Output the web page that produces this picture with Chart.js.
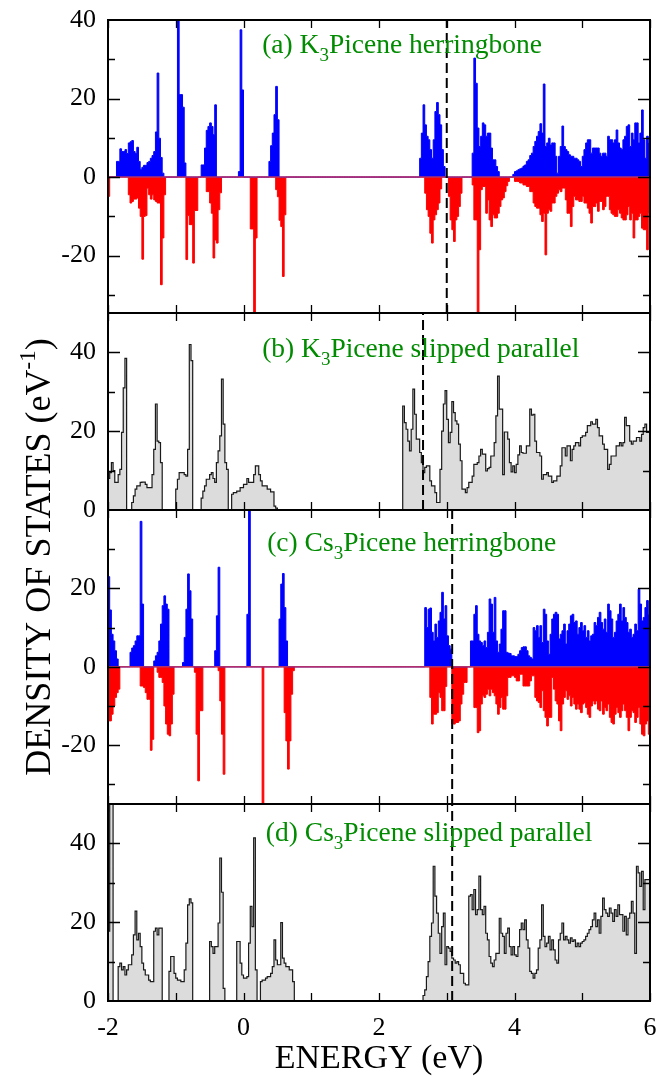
<!DOCTYPE html>
<html>
<head>
<meta charset="utf-8">
<script src="https://cdn.jsdelivr.net/npm/chart.js@4.4.0/dist/chart.umd.min.js"></script>
<style>
  html, body { margin: 0; padding: 0; background: #fff; }
  #wrap { width: 659px; height: 1076px; }
</style>
</head>
<body>
<div id="wrap"><canvas id="dos" width="659" height="1076"></canvas></div>
<script>
// energy bins, 0.025 eV wide, from -2 eV to 6 eV
const energy = Array.from({ length: 321 }, (_, i) => -2 + i * 0.025);

// (a) K3Picene herringbone, spin up / spin down
const aUp = [
  0,0,0,0,0,4,4,7.2,6.5,6.5, 7,6,8.7,9,9.3,6.5,6,7.6,4,2,
  2.5,3,3,3.7,4,4.8,5.5,6.5,11.5,26.5, 9.9,5,1,0,0,0,0,0,0,0,
  0,40,21,21,17.8,3.6,0,0,0,0, 0,0,0,0,0,3.1,3.1,7.4,11.9,12.9,
  13.8,12.9,10.8,18.4,0,0,0,0,0,0, 0,0,0,0,0,0,0,1.4,37.5,22.2,
  0,0,0,0,0,0,0,0,0,0, 0,0,0,0,0,4,8,11.2,15.9,23.1,
  14.6,0,0,0,0,0,0,0,0,0, 0,0,0,0,0,0,0,0,0,0,
  0,0,0,0,0,0,0,0,0,0, 0,0,0,0,0,0,0,0,0,0,
  0,0,0,0,0,0,0,0,0,0, 0,0,0,0,0,0,0,0,0,0,
  0,0,0,0,0,0,0,0,0,0, 0,0,0,0,0,0,0,0,0,0,
  0,0,0,0,4.8,11.2,18.4,13.3,10.4,9.5, 7,4.8,9.5,16.7,19,15.9,13.3,7,2.7,0,
  0,0,0,0,0,0,0,0,0,0, 0,0,0,0,0,6.1,30.3,23.9,12.5,7.8,
  10.4,13.8,13.3,10.4,11.2,11.2,7.4,4.4,4.4,2.7, 1.4,0,0,0,0,0,0,0,0,0.7,
  1.4,1.6,1.9,2.1,2.3,2.8,3.1,4,4.4,5.5, 6.1,7.8,9.1,10.4,11.6,13.6,11.2,23.7,7.8,8.7,
  9.9,8.2,8.7,8.7,5.3,1,5.3,7.8,13,7.8, 7,6.5,5.7,5.3,5.3,4.8,4.8,4.4,4,2.7,
  5.3,7,8.7,9.5,9.5,6.1,7.4,7.4,7.4,7.4, 6.1,5.3,6.1,6.1,5.3,10.4,9.5,9.5,8.7,9.5,
  12,8.7,7.4,7,9.5,10.4,12.9,13.3,7.8,11.2, 9.5,13.8,13.8,8.7,11.2,17.1,9.5,4.8,10.4,8.7,
  8.7
];
const aDown = [
  -4.9,0,0,0,0,0,0,0,0,0, 0,0,-4.5,-6.6,-6.2,-5.6,-5.6,-5.3,-7.9,-10,
  -20.9,-10,-9.8,-2.8,-4.5,-5.6,-4.5,-5.8,-6.2,-6.6, -6.6,-27.4,-15.5,-4.5,0,0,0,0,0,0,
  0,0,0,0,0,0,-21,-9.8,-12.1,-12.1, -21.9,-8.5,-8.5,0,0,0,0,0,-3.7,-3.7,
  -6.6,-9.2,-20.6,-16,-16.8,-8.3,-4,0,0,0, 0,0,0,0,0,0,0,0,0,0,
  0,0,0,0,-13.2,-13.2,-34.6,-15.5,0,0, 0,0,0,0,0,0,0,0,0,-3.2,
  -5,-11,-12.6,-25.3,-9.6,0,0,0,0,0, 0,0,0,0,0,0,0,0,0,0,
  0,0,0,0,0,0,0,0,0,0, 0,0,0,0,0,0,0,0,0,0,
  0,0,0,0,0,0,0,0,0,0, 0,0,0,0,0,0,0,0,0,0,
  0,0,0,0,0,0,0,0,0,0, 0,0,0,0,0,0,0,0,0,0,
  0,0,0,0,0,0,0,-4.1,-8.3,-10, -14.3,-16.8,-10.9,-9.6,-8.3,-6.6,-3,0,0,0,
  0,-4.9,-10.9,-13.4,-16.4,-10.9,-10,-7.5,-4.1,0, 0,0,0,0,0,-2,-10.9,-10.9,-34.6,-18.5,
  -3.2,-2.4,-2.4,-9.2,-5.8,-10.9,-12.6,-9.6,-10.4,-10.4, -9.2,-7.5,-5.8,-5.3,-3.7,-2.2,-1.1,0,0,0,
  -1.1,-1.1,-1.1,-1.5,-1.5,-2,-2,-2.4,-2.4,-3.7, -3.7,-6.6,-7.5,-7.9,-7.9,-9.6,-11.3,-9.2,-19.8,-9.2,
  -8.3,-8.7,-6.6,-6.6,-4.9,-4.1,-3.2,-3.7,-2.8,-2.8, -5.8,-9.2,-9.2,-12.6,-7.5,-4.9,-5.8,-5.8,-6.2,-6.2,
  -4.9,-6.6,-6.6,-7.9,-9.2,-11.7,-7.5,-7.5,-6.6,-8.7, -6.2,-6.2,-8.3,-7.5,-4.9,-4.9,-8.3,-9.2,-9.6,-10,
  -10,-8.3,-9.2,-10.4,-10.9,-10.9,-9.6,-7.5,-10.9,-9.2, -15.5,-10.9,-10.9,-10,-9.2,-13,-13.4,-13.4,-18.5,-9.2,
  -9.2
];

// (b) K3Picene slipped parallel, total
const bTotal = [
  8,9.5,12,10,7,7,9,10.3,19.7,31, 38.5,0,0,0,1.9,3.6,5.3,6.1,6.1,7,
  7.1,7.1,6.5,5.7,5.7,5.7,9,15.4,26.9,17.5, 17.1,12,0,0,0,0,0,0,0,0,
  5.3,7.8,9.5,9.5,9.5,9,8.6,15.4,42,37.9, 0,0,0,0,0,3,4.8,6.1,7.8,7.8,
  9,9.5,8,7,12,15,18.8,33.2,21.8,12, 10.3,0,0,4,4.4,4.4,4.8,4.8,5.7,5.7,
  6.5,6.5,8,7,7,7,9,11.2,11.2,9, 7.4,6.1,6.1,6.1,5.3,5.3,4.6,4.6,1,0.5,
  0,0,0,0,0,0,0,0,0,0, 0,0,0,0,0,0,0,0,0,0,
  0,0,0,0,0,0,0,0,0,0, 0,0,0,0,0,0,0,0,0,0,
  0,0,0,0,0,0,0,0,0,0, 0,0,0,0,0,0,0,0,0,0,
  0,0,0,0,0,0,0,0,0,0, 0,0,0,0,26.4,22.2,20.5,17.5,15,20.5,
  30.7,24.3,18,18,14.6,12,9.5,10.8,11.2,11.2, 7.4,6.1,6.1,4.4,1.9,1.9,10.3,20,26.9,30.3,
  23,17.1,19.7,27.5,24.7,22.6,21.8,16.7,12.5,5.3, 5.3,4.4,5.7,7,7,8.6,11.6,11.6,12,13.7,
  15.4,14.2,14.2,9.9,10.5,10.8,13.7,13.7,17.1,23.9, 34,25.6,25.6,9,19.8,19.8,18,12,9.7,11.2,
  9.5,11.6,14,16.3,14.6,14.4,14.4,16.3,16.3,25.6, 24.1,24.3,17.5,14.6,14.6,13.7,7.8,9,9,9.5,
  8.6,8.6,7,7.4,7.4,8.6,8.6,11.2,15.8,15.8, 13.7,16.3,16.3,12.5,15.4,16.3,17.1,17.1,16.3,18.4,
  18.8,18.8,19.7,21.4,21.4,22.4,21.8,21.8,23,20.9, 18.8,18.8,16.7,15.4,15.4,10.3,11.6,13.7,13.7,13.7,
  16.3,16.3,17.1,16.3,17.1,23.5,21.4,21.4,17.5,16.7, 17.5,17.5,18.4,18.4,17.5,19.2,20.9,21.8,19.7,19.7,
  19.7
];

// (c) Cs3Picene herringbone, spin up / spin down
const cUp = [
  23,14.5,8.3,6.6,4.1,2,0,0,0,0, 0,0,0,3.7,4.8,5.4,6.6,7.9,7.9,37.1,
  16,0,0,0,0,0,0,1.5,2.8,3.7, 6.6,10.9,15.6,18.1,16,14.7,0,0,0,0,
  0,0,0,0,1.1,7.5,14.7,23.7,19.4,12.2, 0,0,0,0,0,0,0,0,0,0,
  0,0,0,4.1,13,25.4,0,0,0,0, 0,0,0,0,0,0,0,0,0,0,
  0,0,13.4,40,0,0,0,0,0,0, 0,0,0,0,0,0,0,0,0,0,
  0,12.2,21.1,23.8,15.1,6.6,0,0,0,0, 0,0,0,0,0,0,0,0,0,0,
  0,0,0,0,0,0,0,0,0,0, 0,0,0,0,0,0,0,0,0,0,
  0,0,0,0,0,0,0,0,0,0, 0,0,0,0,0,0,0,0,0,0,
  0,0,0,0,0,0,0,0,0,0, 0,0,0,0,0,0,0,0,0,0,
  0,0,0,0,0,0,0,15.1,10,14.7, 15,8.8,6.6,10.9,7.5,11.7,13.9,19,12.2,15.6,
  7.9,5.4,4.5,0,0,0,0,0,0,0, 0,0,0,0,6.6,6.6,13.4,15.6,8.3,6.6,
  6.2,5.4,6.6,4.9,8.8,17.3,16,8.8,17.7,6.6, 3.7,5.8,9.6,14.3,14.3,3.7,3.5,3.4,2.8,2.8,
  2.6,2.6,3.2,4.1,4.9,5.1,5.1,4.1,2.8,2.4, 2,10,9.2,10.5,7.5,10.5,6.2,14.7,13.4,6.6,
  3.2,8.3,12.2,13.4,13.9,13.4,7.1,8.3,9.2,10.9, 5.8,9.2,10.9,13,13.4,11.3,11.7,8.3,10,11.3,
  9.2,10.5,7.5,9.2,6.6,7.9,8.3,11.3,10.5,12.6, 13.9,11.3,9.6,12.2,8.8,16,14.3,12.2,7.5,8.8,
  11.7,13.4,16,11.7,15.1,12.6,11.3,8.8,9.6,7.5, 8.3,10.9,9.2,19.8,16,11.7,12.6,15.1,16.9,13.4,
  13.4
];
const cDown = [
  -13.8,-13.8,-12.1,-10,-7.8,-6.6,-5.7,0,0,0, 0,0,0,0,0,0,0,0,0,-4.9,
  -4.9,-5.3,-6.6,-8.3,-8.3,-21.3,-18.5,0,0,-1.4, -2.7,-2.7,-4,-10,-14.6,-17.2,-17.6,-14.6,-7,0,
  0,0,0,0,0,0,0,0,0,0, 0,-1.4,-17.2,-29.1,-11.2,-11.2,0,0,0,0,
  0,0,0,0,0,-1,-8.7,-17.2,-27.4,0, 0,0,0,0,0,0,0,0,0,0,
  0,0,0,0,0,0,0,0,0,0, 0,-35,0,0,0,0,0,0,0,0,
  0,0,0,0,-11.7,-18.9,-26.1,-18.9,-7,-1, 0,0,0,0,0,0,0,0,0,0,
  0,0,0,0,0,0,0,0,0,0, 0,0,0,0,0,0,0,0,0,0,
  0,0,0,0,0,0,0,0,0,0, 0,0,0,0,0,0,0,0,0,0,
  0,0,0,0,0,0,0,0,0,0, 0,0,0,0,0,0,0,0,0,0,
  0,0,0,0,0,0,0,0,0,0, -7.8,-14.6,-12.1,-12.1,-11.7,-6.6,-7.8,-11.2,-11.2,-5,
  0,0,0,-14.6,-14.6,-14.2,-14.2,-13.8,-9.5,-7, -4,-4,0,0,0,0,-10.4,-10.4,-16.8,-16.3,
  -9.5,-7.4,-7.8,-7,-5.7,-7.4,-5.7,-6.6,-7.4,-9.5, -12.1,-10.4,-7.8,-10.8,-10.8,-7.4,-2.7,-2.7,-2.3,-2.3,
  -2.7,-3.6,-3.6,-1.9,-1.9,-4.9,-4.9,-4.9,-4.9,-3.6, -2.3,-2.3,-7.8,-8.7,-9.1,-10.4,-6.1,-11.2,-12.9,-15.1,
  -12.9,-12.9,-2.7,-5.7,-8.7,-9.5,-13.8,-16.3,-9.5,-7.8, -6.1,-8.3,-7.4,-10,-7.8,-9.5,-10.8,-9.5,-10.8,-11.7,
  -9.5,-9.1,-10.4,-12.1,-12.9,-10,-8.7,-9.5,-8.7,-10.8, -11.2,-8.7,-12.1,-10.4,-11.2,-9.5,-12.9,-14.2,-14.6,-12.1,
  -10.4,-11.7,-12.9,-11.2,-9.5,-11.2,-12.9,-16.3,-12.9,-11.2, -11.7,-14.2,-12.9,-10.4,-14.6,-17.2,-17.6,-14.6,-13.8,-17.2,
  -12.9
];

// (d) Cs3Picene slipped parallel, total
const dTotal = [
  17.7,50,50,0,0,0,8.7,9.6,7.9,8.7, 6.6,7.9,9.2,9.2,11.7,16.8,22.8,15.5,17.2,13.8,
  9.6,7.9,6.6,6.6,5.3,4.9,4.9,17.7,18.5,16.8, 18.5,18.5,0,0,0,0,7.5,11.3,11.3,7,
  5.8,5.3,5.3,4.9,4.9,7.9,14.7,24.4,25.9,24.9, 0,0,0,0,0,0,0,0,0,0,
  15.1,13.8,12.1,13.8,13.8,19.8,36.3,27.6,3.2,0, 0,0,0,0,0,0,15.1,15.1,9.6,6.6,
  5.8,5.8,6.2,14.7,24,18.9,41.4,7.9,0,0, 4.9,5.3,5.3,5.8,6.2,6.2,7,8.7,15.5,10.4,
  9.2,9.2,19.9,10.9,9.6,8.7,8.7,7.9,7.9,4.9, 0,0,0,0,0,0,0,0,0,0,
  0,0,0,0,0,0,0,0,0,0, 0,0,0,0,0,0,0,0,0,0,
  0,0,0,0,0,0,0,0,0,0, 0,0,0,0,0,0,0,0,0,0,
  0,0,0,0,0,0,0,0,0,0, 0,0,0,0,0,0,0,0,0,0,
  0,0,0,0,0,0,1.4,2.8,6.2,10, 16.4,19.8,34.2,26.6,22.3,17.2,12.1,18.9,22.3,9.2,
  13.8,13.4,12.6,10.9,10.4,9.6,10,9.2,7,7, 4.5,4.1,4.1,26.6,27,23.2,28.3,21.9,23.2,31.7,
  23.2,21.9,24,17.2,15.5,11.3,9.6,8.7,10.4,12.1, 12.1,21,17.2,16.4,12.1,17.2,18.5,13.8,11.7,13.8,
  11.7,11.3,13.8,18.1,19.8,18.1,20.6,15.5,13.4,7.5, 7,5.8,7,7.9,13.4,15.5,24.4,16.4,13.8,14.7,
  16.4,13,15.5,13,10.4,9.6,15.5,17.2,19.8,15.5, 16.4,15.5,14.7,16,15.1,15.5,13.8,14.7,13.8,14.7,
  15.1,15.5,16.4,17.2,18.1,18.9,20.6,22.3,18.9,20.6, 17.2,21.5,26.1,23.2,22.3,21.5,23.6,22.3,20.2,23.2,
  21.5,24.4,21.9,21.9,17.7,21.5,16.8,21,22.3,25.3, 22.3,12.1,34.2,32.5,29.1,32.9,23.2,30.8,30.8,30.8,
  30.8
];

// Fermi levels (eV) of the four panels
const fermi = [3.0, 2.65, 3.08, 3.08];

// axis ticks
const xTicks = [-2, -1, 0, 1, 2, 3, 4, 5, 6];
const xLabels = [-2, 0, 2, 4, 6];
const yTicksA = [-30, -20, -10, 0, 10, 20, 30, 40];
const yLabelsA = [-20, 0, 20, 40];
const yTicksB = [0, 10, 20, 30, 40, 50];
const yLabelsB = [0, 20, 40];
const yTicksC = [-30, -20, -10, 0, 10, 20, 30, 40];
const yLabelsC = [-20, 0, 20];
const yTicksD = [0, 10, 20, 30, 40, 50];
const yLabelsD = [0, 20, 40];

[aUp, aDown, bTotal, cUp, cDown, dTotal].forEach((a, k) => {
  if (a.length !== energy.length) throw new Error('series ' + k + ' has ' + a.length + ' values');
});

const SERIF = '"Liberation Serif", "Times New Roman", serif';
const panels = [
  { id: 'yA', min: -34.6, max: 40, h: 293, weight: 4, ticks: yTicksA, labels: yLabelsA,
    title: ['(a) K', '3', 'Picene herringbone'], tx: 0.275, ty: 31.6 },
  { id: 'yB', min: 0, max: 50, h: 197, weight: 3, ticks: yTicksB, labels: yLabelsB,
    title: ['(b) K', '3', 'Picene slipped parallel'], tx: 0.275, ty: 38.8 },
  { id: 'yC', min: -35, max: 40, h: 294, weight: 2, ticks: yTicksC, labels: yLabelsC,
    title: ['(c) Cs', '3', 'Picene herringbone'], tx: 0.35, ty: 29.5 },
  { id: 'yD', min: 0, max: 50, h: 197, weight: 1, ticks: yTicksD, labels: yLabelsD,
    title: ['(d) Cs', '3', 'Picene slipped parallel'], tx: 0.33, ty: 40.6 }
];

const bins = vals => energy.map((e, i) => ({ x: e, y: vals[i] }));

function histo(vals, axis, fillCol, lineCol, lw) {
  return {
    data: bins(vals), yAxisID: axis, stepped: true, fill: 'origin',
    backgroundColor: fillCol, borderColor: lineCol, borderWidth: lw,
    pointRadius: 0, order: 5
  };
}
function fermiLine(k) {
  const p = panels[k];
  return {
    data: [{ x: fermi[k], y: p.min }, { x: fermi[k], y: p.max }], yAxisID: p.id,
    borderColor: '#000', borderWidth: 2, borderDash: [10, 5], pointRadius: 0, fill: false, order: 0
  };
}
function zeroLine(axis) {
  return {
    data: [{ x: -2, y: 0 }, { x: 6, y: 0 }], yAxisID: axis,
    borderColor: '#b0306e', borderWidth: 1.5, pointRadius: 0, fill: false, order: 1
  };
}

const datasets = [
  histo(aUp, 'yA', '#0000ff', '#0000ff', 1),
  histo(aDown, 'yA', '#ff0000', '#ff0000', 1),
  zeroLine('yA'),
  histo(bTotal, 'yB', '#dcdcdc', '#1a1a1a', 1.2),
  histo(cUp, 'yC', '#0000ff', '#0000ff', 1),
  histo(cDown, 'yC', '#ff0000', '#ff0000', 1),
  zeroLine('yC'),
  histo(dTotal, 'yD', '#dcdcdc', '#1a1a1a', 1.2),
  fermiLine(0), fermiLine(1), fermiLine(2), fermiLine(3)
];

const scales = {
  x: {
    type: 'linear', position: 'bottom', min: -2, max: 6,
    grid: { display: false, drawTicks: false }, border: { display: false },
    afterBuildTicks: s => { s.ticks = xTicks.map(v => ({ value: v })); },
    afterFit: s => { s.height = 75; s.paddingLeft = 0; s.paddingRight = 0; },
    ticks: {
      autoSkip: false, maxRotation: 0, padding: 12, color: '#000',
      font: { family: SERIF, size: 26 },
      callback: v => xLabels.includes(v) ? String(v) : ''
    }
  }
};
panels.forEach(p => {
  scales[p.id] = {
    type: 'linear', position: 'left', stack: 'dos', stackWeight: p.h, weight: p.weight,
    min: p.min, max: p.max,
    grid: { display: false, drawTicks: false }, border: { display: false },
    afterBuildTicks: s => { s.ticks = p.ticks.map(v => ({ value: v })); },
    afterFit: s => { s.width = 108; s.paddingTop = 0; s.paddingBottom = 0; },
    ticks: {
      autoSkip: false, padding: 12, color: '#000', font: { family: SERIF, size: 26 },
      callback: v => p.labels.includes(v) ? String(v) : ''
    }
  };
});

function subText(ctx, x, y, parts, size) {
  ctx.font = size + 'px ' + SERIF;
  ctx.fillText(parts[0], x, y);
  x += ctx.measureText(parts[0]).width;
  ctx.font = Math.round(size * 0.7) + 'px ' + SERIF;
  ctx.fillText(parts[1], x, y + size * 0.3);
  x += ctx.measureText(parts[1]).width;
  ctx.font = size + 'px ' + SERIF;
  ctx.fillText(parts[2], x, y);
}

const frame = {
  id: 'frame',
  afterDatasetsDraw(chart) {
    const ctx = chart.ctx;
    const area = chart.chartArea;
    const xs = chart.scales.x;
    ctx.save();
    ctx.strokeStyle = '#000';
    panels.forEach(p => {
      const ys = chart.scales[p.id];
      ctx.lineWidth = 1.3;
      ctx.beginPath();
      xTicks.forEach(v => {
        const px = Math.round(xs.getPixelForValue(v)) + 0.5;
        ctx.moveTo(px, ys.bottom); ctx.lineTo(px, ys.bottom - 8);
        ctx.moveTo(px, ys.top); ctx.lineTo(px, ys.top + 8);
      });
      p.ticks.forEach(v => {
        if (v === p.min || v === p.max) return;
        const py = Math.round(ys.getPixelForValue(v)) + 0.5;
        const len = v % 20 === 0 ? 12 : 7;
        ctx.moveTo(area.left, py); ctx.lineTo(area.left + len, py);
        ctx.moveTo(area.right, py); ctx.lineTo(area.right - len, py);
      });
      ctx.stroke();
      ctx.lineWidth = 2;
      ctx.strokeRect(area.left, ys.top, area.right - area.left, ys.bottom - ys.top);

      ctx.fillStyle = '#008b00';
      ctx.textBaseline = 'alphabetic';
      ctx.textAlign = 'left';
      subText(ctx, xs.getPixelForValue(p.tx), ys.getPixelForValue(p.ty), p.title, 27.5);
    });

    // axis titles
    ctx.fillStyle = '#000';
    ctx.textAlign = 'center';
    ctx.font = '34px ' + SERIF;
    ctx.fillText('ENERGY (eV)', (area.left + area.right) / 2, 1068);

    ctx.translate(50, 557);
    ctx.rotate(-Math.PI / 2);
    ctx.textAlign = 'left';
    const main = 'DENSITY OF STATES (eV', sup = '-1', tail = ')';
    ctx.font = '36px ' + SERIF;
    const w1 = ctx.measureText(main).width, w3 = ctx.measureText(tail).width;
    ctx.font = '23px ' + SERIF;
    const w2 = ctx.measureText(sup).width;
    const x0 = -(w1 + w2 + w3) / 2;
    ctx.font = '36px ' + SERIF;
    ctx.fillText(main, x0, 0);
    ctx.font = '23px ' + SERIF;
    ctx.fillText(sup, x0 + w1, -15);
    ctx.font = '36px ' + SERIF;
    ctx.fillText(tail, x0 + w1 + w2, 0);
    ctx.restore();
  }
};

new Chart(document.getElementById('dos'), {
  type: 'line',
  data: { datasets },
  options: {
    responsive: false,
    animation: false,
    events: [],
    layout: { padding: { top: 20, right: 9, left: 0, bottom: 0 } },
    scales,
    plugins: { legend: { display: false }, tooltip: { enabled: false } }
  },
  plugins: [frame]
});
</script>
</body>
</html>
